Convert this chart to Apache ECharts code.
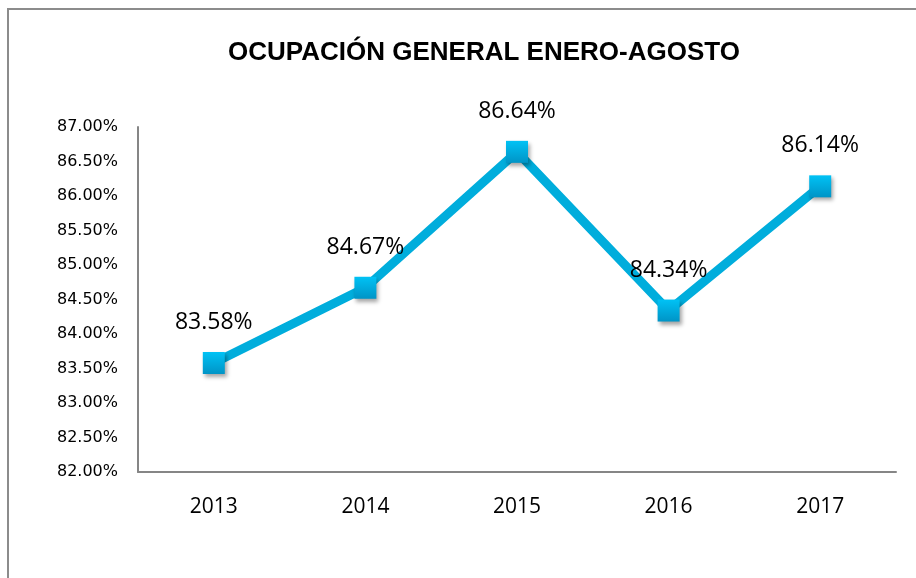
<!DOCTYPE html>
<html>
<head>
<meta charset="utf-8">
<script src="https://cdn.jsdelivr.net/npm/echarts@6/dist/echarts.min.js"></script>
<style>
  html, body { margin: 0; padding: 0; background: #fff; }
  #chart { width: 916px; height: 578px; }
</style>
</head>
<body>
<div id="chart"></div>
<script>
// datos
const years = ['2013', '2014', '2015', '2016', '2017']
const ocupacion = [83.58, 84.67, 86.64, 84.34, 86.14]
const yMin = 82
const yMax = 87
const yStep = 0.5

const chart = echarts.init(document.getElementById('chart'))

chart.setOption({
  backgroundColor: '#fff',
  animation: false,
  title: {
    text: 'OCUPACIÓN GENERAL ENERO-AGOSTO',
    left: 479,
    textAlign: 'center',
    top: 35,
    textStyle: {
      fontFamily: 'Liberation Sans',
      fontWeight: 'bold',
      fontSize: 26,
      color: '#000'
    }
  },
  graphic: [{
    type: 'rect',
    shape: { x: 8, y: 9, width: 1000, height: 1000 },
    style: { fill: 'none', stroke: '#8c8c8c', lineWidth: 2 },
    silent: true
  }],
  grid: {
    left: 138,
    right: 20,
    top: 127,
    bottom: 578 - 472
  },
  xAxis: {
    type: 'category',
    data: years,
    boundaryGap: true,
    axisLine: { lineStyle: { color: '#868686', width: 2 } },
    axisTick: { show: false },
    axisLabel: {
      margin: 25,
      fontFamily: 'Open Sans',
      fontSize: 21,
      color: '#000'
    }
  },
  yAxis: {
    type: 'value',
    min: yMin,
    max: yMax,
    interval: yStep,
    splitLine: { show: false },
    axisLine: { show: true, lineStyle: { color: '#868686', width: 2 } },
    axisTick: { show: false },
    axisLabel: {
      margin: 20,
      fontFamily: 'DejaVu Sans',
      fontSize: 16,
      color: '#000',
      formatter: v => v.toFixed(2) + '%'
    }
  },
  series: [{
    type: 'line',
    data: ocupacion,
    symbol: 'rect',
    symbolSize: 22,
    lineStyle: { color: '#00ADDC', width: 9 },
    itemStyle: {
      color: new echarts.graphic.LinearGradient(0, 0, 0, 1, [
        { offset: 0, color: '#00C2F5' },
        { offset: 1, color: '#0094C6' }
      ]),
      shadowColor: 'rgba(0,0,0,0.35)',
      shadowBlur: 4,
      shadowOffsetX: 2,
      shadowOffsetY: 3
    },
    label: {
      show: true,
      position: 'top',
      distance: 18,
      fontFamily: 'Open Sans',
      fontSize: 23,
      color: '#000',
      formatter: p => p.value.toFixed(2) + '%'
    }
  }]
})
</script>
</body>
</html>
